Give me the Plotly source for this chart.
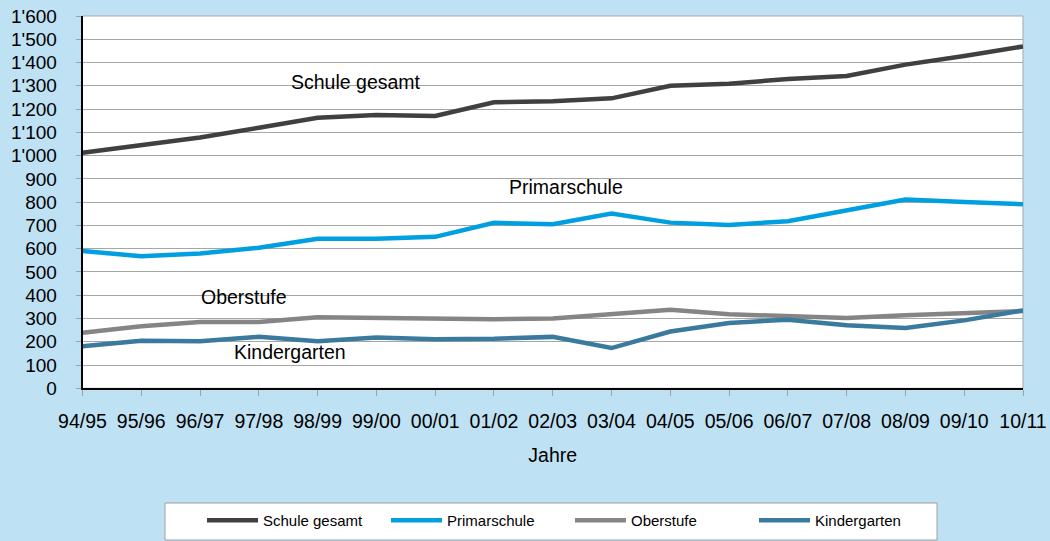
import plotly.graph_objects as go

# School years on the x axis
years = ["94/95", "95/96", "96/97", "97/98", "98/99", "99/00", "00/01", "01/02",
         "02/03", "03/04", "04/05", "05/06", "06/07", "07/08", "08/09", "09/10", "10/11"]

# Pupil counts per series
schule_gesamt = [1012, 1045, 1078, 1120, 1163, 1174, 1170, 1229, 1234, 1246,
                 1300, 1309, 1329, 1342, 1391, 1428, 1469]
primarschule = [590, 568, 579, 604, 643, 643, 651, 711, 705, 751,
                712, 702, 718, 766, 811, 801, 791]
oberstufe = [239, 267, 285, 285, 305, 302, 300, 297, 300, 317,
             338, 318, 311, 302, 314, 324, 332]
kindergarten = [181, 204, 202, 221, 202, 218, 211, 213, 221, 173,
                244, 281, 295, 271, 259, 292, 335]

# Y axis ticks with Swiss thousands separator
y_tick_values = list(range(0, 1601, 100))
y_tick_labels = [f"{v:,}".replace(",", "'") for v in y_tick_values]

series = [
    ("Schule gesamt", schule_gesamt, "#404040"),
    ("Primarschule", primarschule, "#00A0E0"),
    ("Oberstufe", oberstufe, "#858585"),
    ("Kindergarten", kindergarten, "#3A7A9E"),
]

# In-chart series labels: (text, x index, y value)
inline_labels = [
    ("Schule gesamt", 4.65, 1317),
    ("Primarschule", 8.22, 865),
    ("Oberstufe", 2.75, 393),
    ("Kindergarten", 3.53, 156),
]

FONT = "Arial, Liberation Sans, sans-serif"
W, H = 1050, 541

# Plot area edges in pixels
PX_LEFT, PX_RIGHT, PX_TOP, PX_BOTTOM = 82.5, 1023, 16, 388.3

fig = go.Figure()
for name, values, color in series:
    fig.add_trace(go.Scatter(
        x=years, y=values, name=name, mode="lines",
        line=dict(color=color, width=4.5),
    ))

for text, xi, yv in inline_labels:
    fig.add_annotation(x=xi, y=yv, xref="x", yref="y", text=text, showarrow=False,
                       font=dict(family=FONT, size=19.5, color="#000000"))

# Light frame around the plot area
fig.add_shape(type="rect", xref="paper", yref="paper",
              x0=PX_LEFT / W, x1=PX_RIGHT / W, y0=1 - PX_BOTTOM / H, y1=1 - PX_TOP / H,
              line=dict(color="#A8A8A8", width=1), layer="below")

# White box behind the legend
fig.add_shape(type="rect", xref="paper", yref="paper",
              x0=165 / W, x1=937 / W, y0=1 - 540 / H, y1=1 - 503 / H,
              fillcolor="#FFFFFF", line=dict(color="#A0A0A0", width=1), layer="below")

fig.update_layout(
    width=W, height=H,
    margin=dict(l=0, r=0, t=0, b=0),
    paper_bgcolor="#BFE1F4",
    plot_bgcolor="#FFFFFF",
    font=dict(family=FONT, color="#000000"),
    xaxis=dict(
        domain=[PX_LEFT / W, PX_RIGHT / W],
        automargin=False,
        type="category", range=[0, len(years) - 1],
        showgrid=False, showline=True, linecolor="#000000", linewidth=1.5,
        ticks="outside", ticklen=6, tickcolor="#A0A0A0", tickwidth=1,
        tickfont=dict(family=FONT, size=19.5),
        ticklabelstandoff=9,
        title=dict(text="Jahre", font=dict(family=FONT, size=19.5), standoff=17),
        zeroline=False,
    ),
    yaxis=dict(
        domain=[1 - PX_BOTTOM / H, 1 - PX_TOP / H],
        automargin=False,
        range=[0, 1600],
        tickvals=y_tick_values, ticktext=y_tick_labels,
        showgrid=True, gridcolor="#A6A6A6", gridwidth=1,
        showline=True, linecolor="#000000", linewidth=1.5,
        ticks="outside", ticklen=5, tickcolor="#A0A0A0", tickwidth=1,
        tickfont=dict(family=FONT, size=19),
        ticklabelstandoff=15,
        zeroline=False,
    ),
    showlegend=True,
    legend=dict(
        orientation="h",
        x=202 / W, xanchor="left",
        y=1 - 504 / H, yanchor="top",
        bgcolor="rgba(0,0,0,0)", borderwidth=0,
        font=dict(family=FONT, size=15),
        entrywidth=118, entrywidthmode="pixels",
        itemwidth=51,
    ),
)

fig.write_html("out.html")
